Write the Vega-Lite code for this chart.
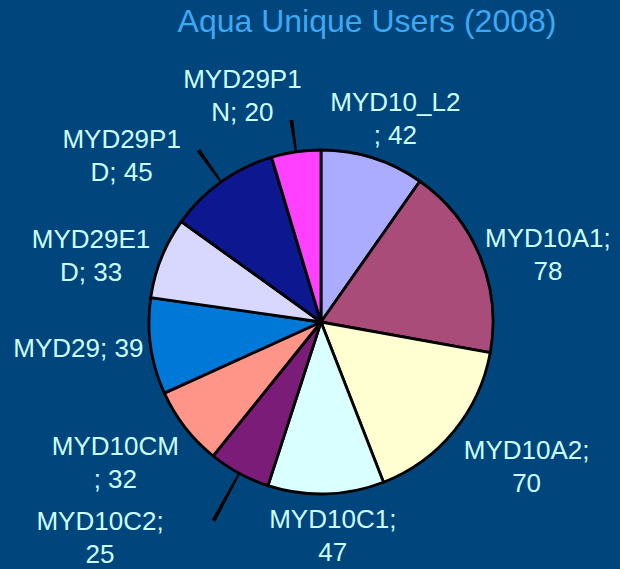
{
  "$schema": "https://vega.github.io/schema/vega-lite/v6.json",
  "autosize": "none",
  "width": 600,
  "height": 494,
  "padding": {"left": 21, "top": 75, "right": 0, "bottom": 0},
  "background": "#00457C",
  "config": {
    "view": {"stroke": null},
    "text": {"font": "Liberation Sans", "fontSize": 26, "lineBreak": "\n", "lineHeight": 33, "fill": "#CCFFFF", "align": "center", "baseline": "middle"}
  },
  "title": {
    "text": "Aqua Unique Users (2008)",
    "color": "#3DA9F5",
    "font": "Liberation Sans",
    "fontSize": 32,
    "fontWeight": "normal",
    "anchor": "middle",
    "dx": 46,
    "dy": 34,
    "baseline": "alphabetic",
    "offset": 14
  },
  "data": {
    "values": [
      {"label": "MYD10_L2", "value": 42, "txt": "MYD10_L2\n; 42"},
      {"label": "MYD10A1", "value": 78, "txt": "MYD10A1;\n78"},
      {"label": "MYD10A2", "value": 70, "txt": "MYD10A2;\n70"},
      {"label": "MYD10C1", "value": 47, "txt": "MYD10C1;\n47"},
      {"label": "MYD10C2", "value": 25, "txt": "MYD10C2;\n25"},
      {"label": "MYD10CM", "value": 32, "txt": "MYD10CM\n; 32"},
      {"label": "MYD29", "value": 39, "txt": "MYD29; 39"},
      {"label": "MYD29E1D", "value": 33, "txt": "MYD29E1\nD; 33"},
      {"label": "MYD29P1D", "value": 45, "txt": "MYD29P1\nD; 45"},
      {"label": "MYD29P1N", "value": 20, "txt": "MYD29P1\nN; 20"}
    ]
  },
  "transform": [{"window": [{"op": "row_number", "as": "i"}]}],
  "encoding": {
    "theta": {"field": "value", "type": "quantitative", "stack": true},
    "order": {"field": "i", "type": "quantitative"}
  },
  "layer": [
    {
      "mark": {"type": "arc", "outerRadius": 172, "stroke": "#000000", "strokeWidth": 2.8},
      "encoding": {
        "color": {
          "field": "label",
          "type": "nominal",
          "legend": null,
          "scale": {
            "domain": ["MYD10_L2", "MYD10A1", "MYD10A2", "MYD10C1", "MYD10C2", "MYD10CM", "MYD29", "MYD29E1D", "MYD29P1D", "MYD29P1N"],
            "range": ["#ABABFF", "#A94C79", "#FFFFD2", "#D9FFFF", "#7A1C78", "#FF9488", "#0078D7", "#D8D8FF", "#0D1790", "#FF40FF"]
          }
        }
      }
    },
    {
      "mark": {"type": "arc", "innerRadius": 173, "outerRadius": 225, "padAngle": 0.2821, "fill": "#000000", "stroke": "#000000", "strokeWidth": 2.2},
      "encoding": {"opacity": {"condition": {"test": "datum.label === 'MYD10C2'", "value": 1}, "value": 0}}
    },
    {
      "mark": {"type": "arc", "innerRadius": 173, "outerRadius": 210, "padAngle": 0.4965, "fill": "#000000", "stroke": "#000000", "strokeWidth": 2.2},
      "encoding": {"opacity": {"condition": {"test": "datum.label === 'MYD29P1D'", "value": 1}, "value": 0}}
    },
    {
      "mark": {"type": "arc", "innerRadius": 173, "outerRadius": 203, "padAngle": 0.2156, "fill": "#000000", "stroke": "#000000", "strokeWidth": 2.2},
      "encoding": {"opacity": {"condition": {"test": "datum.label === 'MYD29P1N'", "value": 1}, "value": 0}}
    },
    {
      "mark": {"type": "text", "radius": 230, "dx": 5},
      "encoding": {"text": {"condition": {"test": "datum.label === 'MYD10_L2'", "field": "txt"}, "value": ""}}
    },
    {
      "mark": {"type": "text", "radius": 241, "dx": 4, "dy": 9},
      "encoding": {"text": {"condition": {"test": "datum.label === 'MYD10A1'", "field": "txt"}, "value": ""}}
    },
    {
      "mark": {"type": "text", "radius": 243, "dx": 18, "dy": -25},
      "encoding": {"text": {"condition": {"test": "datum.label === 'MYD10A2'", "field": "txt"}, "value": ""}}
    },
    {
      "mark": {"type": "text", "radius": 198, "dx": 6},
      "encoding": {"text": {"condition": {"test": "datum.label === 'MYD10C1'", "field": "txt"}, "value": ""}}
    },
    {
      "mark": {"type": "text", "radius": 227, "dx": -113},
      "encoding": {"text": {"condition": {"test": "datum.label === 'MYD10C2'", "field": "txt"}, "value": ""}}
    },
    {
      "mark": {"type": "text", "radius": 240, "dx": -16, "dy": -22},
      "encoding": {"text": {"condition": {"test": "datum.label === 'MYD10CM'", "field": "txt"}, "value": ""}}
    },
    {
      "mark": {"type": "text", "radius": 233, "dx": -12, "dy": -6},
      "encoding": {"text": {"condition": {"test": "datum.label === 'MYD29'", "field": "txt"}, "value": ""}}
    },
    {
      "mark": {"type": "text", "radius": 250, "dx": 2, "dy": 11},
      "encoding": {"text": {"condition": {"test": "datum.label === 'MYD29E1D'", "field": "txt"}, "value": ""}}
    },
    {
      "mark": {"type": "text", "radius": 240, "dx": -60, "dy": 13},
      "encoding": {"text": {"condition": {"test": "datum.label === 'MYD29P1D'", "field": "txt"}, "value": ""}}
    },
    {
      "mark": {"type": "text", "radius": 245, "dx": -43},
      "encoding": {"text": {"condition": {"test": "datum.label === 'MYD29P1N'", "field": "txt"}, "value": ""}}
    }
  ]
}
